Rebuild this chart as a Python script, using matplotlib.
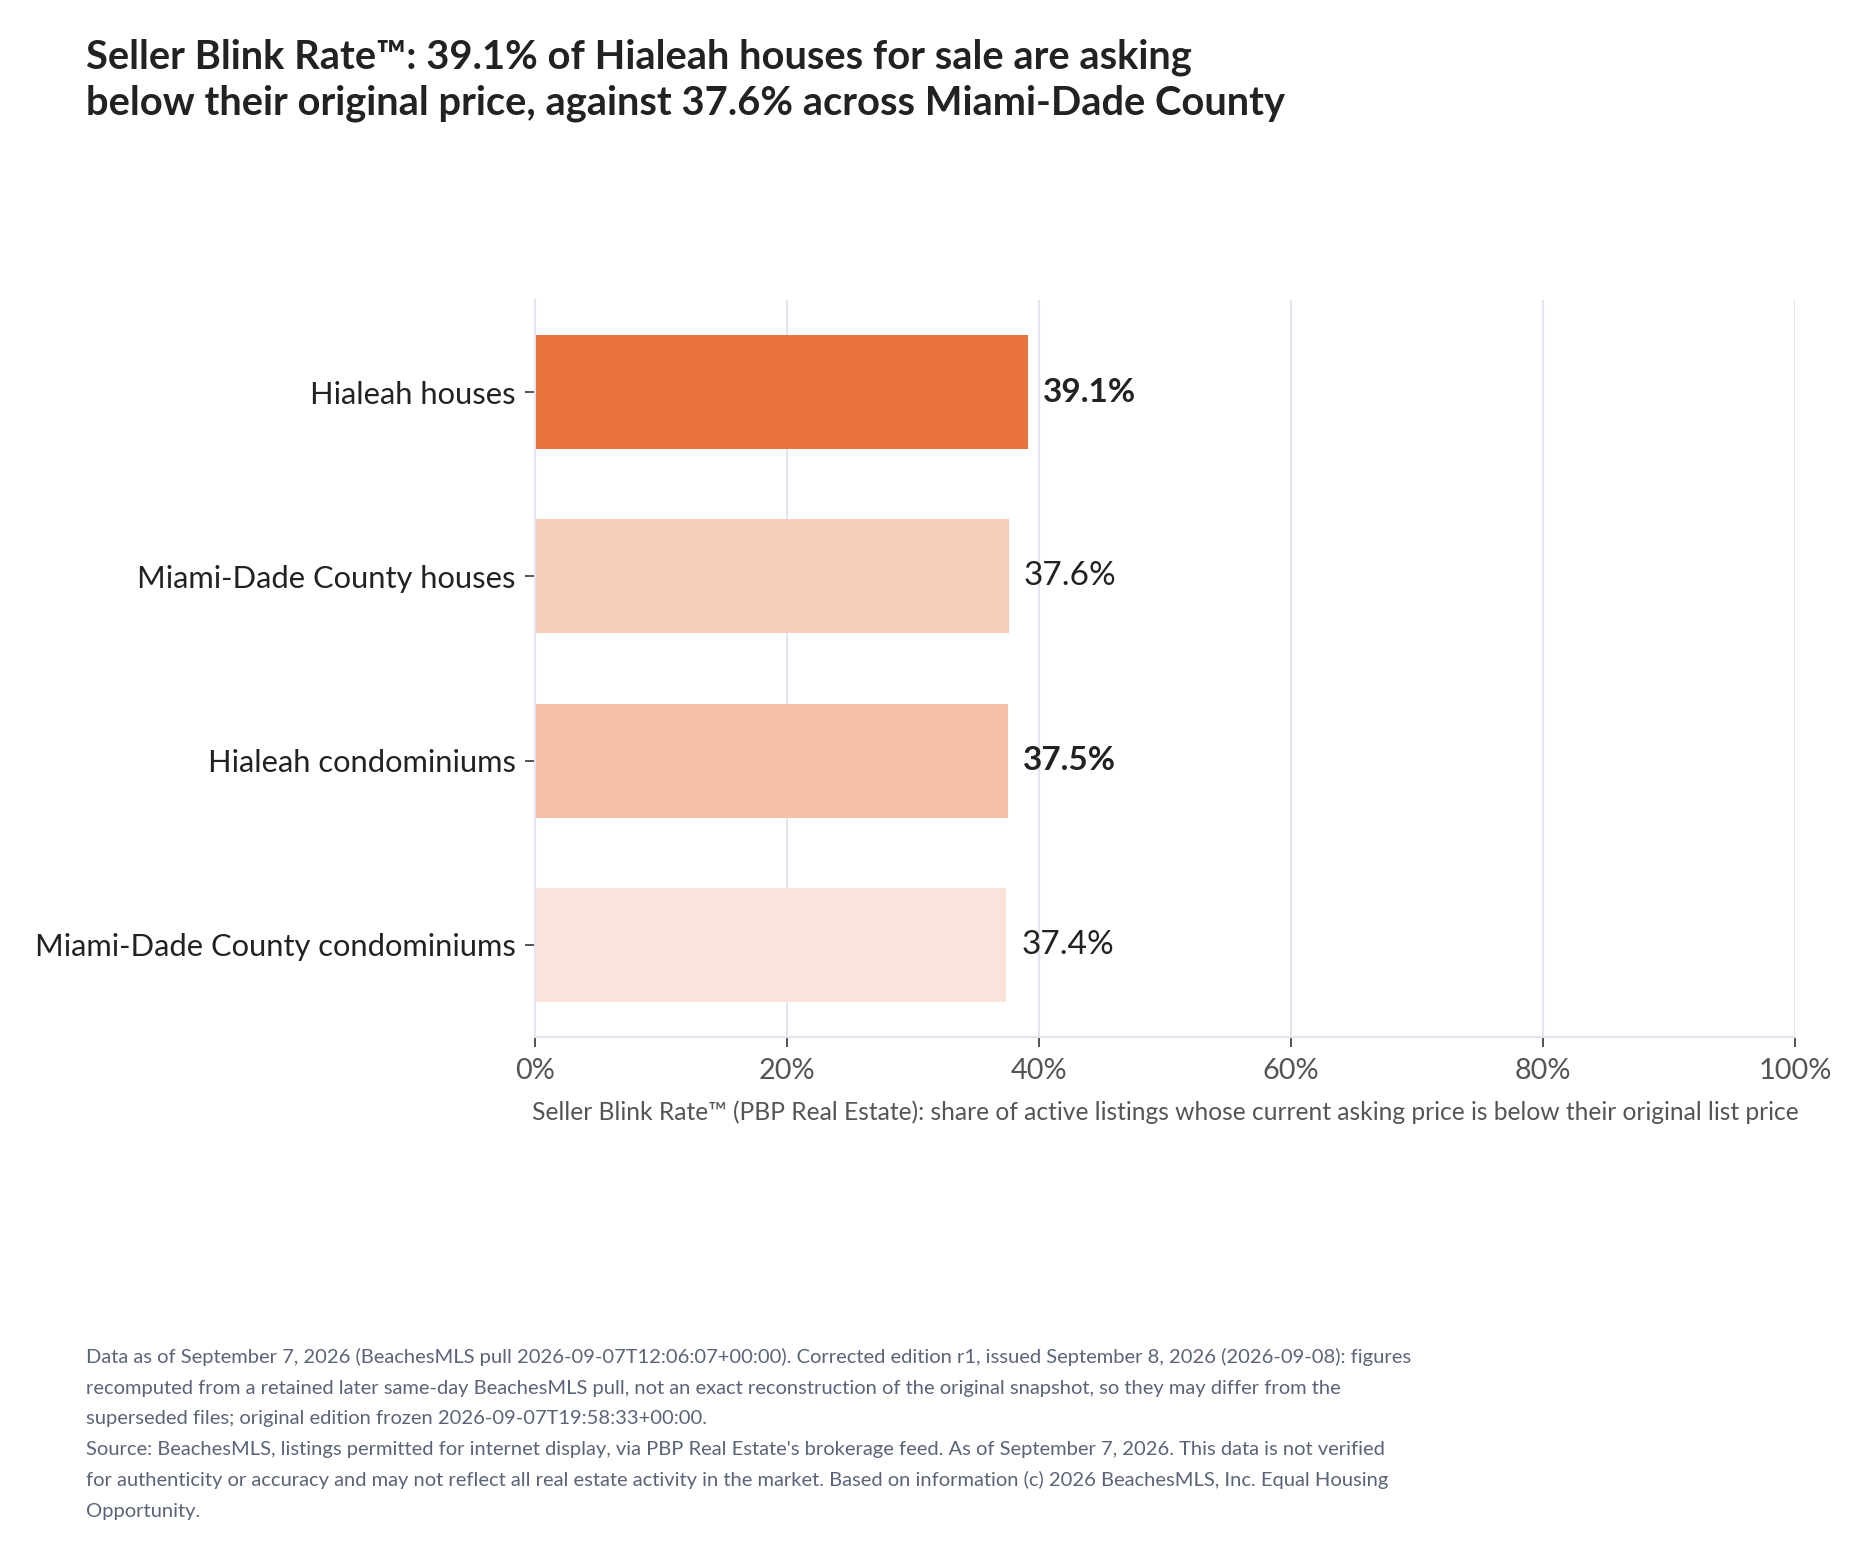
import matplotlib
matplotlib.use('Agg')
import matplotlib.pyplot as plt
from matplotlib.ticker import FuncFormatter

plt.rcParams['font.family'] = ['Lato', 'DejaVu Sans']

categories = ['Hialeah houses', 'Miami-Dade County houses',
              'Hialeah condominiums', 'Miami-Dade County condominiums']
values = [39.1, 37.6, 37.5, 37.4]
bar_colors = ['#E8743C', '#F6CEBA', '#F5C0A8', '#F9E3DA']
bold_label = [True, False, True, False]
x_ticks = [0, 20, 40, 60, 80, 100]

title_lines = ['Seller Blink Rate\u2122: 39.1% of Hialeah houses for sale are asking',
               'below their original price, against 37.6% across Miami-Dade County']
x_label = ('Seller Blink Rate\u2122 (PBP Real Estate): share of active listings whose '
           'current asking price is below their original list price')
footnote_lines = [
    'Data as of September 7, 2026 (BeachesMLS pull 2026-09-07T12:06:07+00:00). Corrected edition r1, issued September 8, 2026 (2026-09-08): figures',
    'recomputed from a retained later same-day BeachesMLS pull, not an exact reconstruction of the original snapshot, so they may differ from the',
    'superseded files; original edition frozen 2026-09-07T19:58:33+00:00.',
    "Source: BeachesMLS, listings permitted for internet display, via PBP Real Estate's brokerage feed. As of September 7, 2026. This data is not verified",
    'for authenticity or accuracy and may not reflect all real estate activity in the market. Based on information (c) 2026 BeachesMLS, Inc. Equal Housing',
    'Opportunity.',
]

W, H = 1870, 1556
fig = plt.figure(figsize=(W / 100, H / 100), dpi=100)
ax = fig.add_axes([535 / W, 1 - 1037 / H, (1795 - 535) / W, (1037 - 300) / H])

ypos = list(range(len(categories)))
ax.barh(ypos, values, height=0.62, color=bar_colors, zorder=2)
for y, v, b in zip(ypos, values, bold_label):
    ax.annotate(f'{v:.1f}%', (v, y), xytext=(11, 0), textcoords='offset points',
                va='center', ha='left', fontsize=24,
                fontweight='bold' if b else 'normal', color='#222222', zorder=3)

ax.set_xlim(0, 100)
ax.set_ylim(len(categories) - 0.5, -0.5)
ax.set_yticks(ypos)
ax.set_yticklabels(categories, fontsize=22.2, color='#222222')
ax.set_xticks(x_ticks)
ax.xaxis.set_major_formatter(FuncFormatter(lambda v, p: f'{v:.0f}%'))
ax.tick_params(axis='x', labelsize=20.8, labelcolor='#555555', length=7, width=1.3,
               color='#444444', pad=8)
ax.tick_params(axis='y', length=7, width=1.3, color='#444444', pad=7)
ax.grid(axis='x', color='#E4E4EF', linewidth=1.5, zorder=0)
ax.set_axisbelow(True)
for side in ['top', 'right']:
    ax.spines[side].set_visible(False)
for side in ['left', 'bottom']:
    ax.spines[side].set_color('#E4E4EF')
    ax.spines[side].set_linewidth(1.5)
ax.set_xlabel(x_label, fontsize=17.7, color='#555555', labelpad=12)

for i, line in enumerate(title_lines):
    fig.text(86 / W, 1 - (69 + i * 46) / H, line, fontsize=28.7, fontweight='bold',
             color='#222222', ha='left', va='baseline')

for i, line in enumerate(footnote_lines):
    fig.text(86 / W, 1 - (1363 + i * 30.7) / H, line, fontsize=14.5,
             color='#5A6378', ha='left', va='baseline')

fig.savefig('out.png', dpi=100, facecolor='white')
